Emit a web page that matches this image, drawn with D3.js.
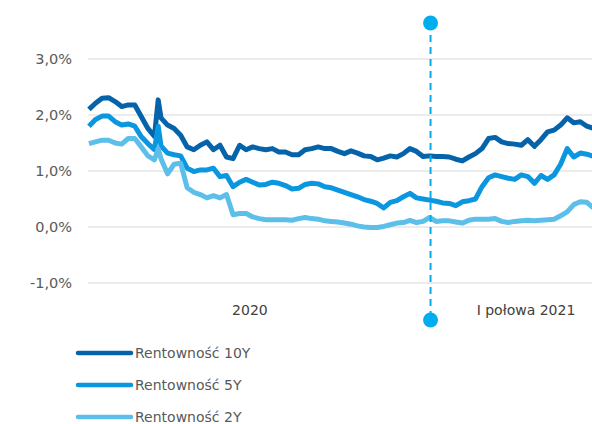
<!DOCTYPE html>
<html>
<head>
<meta charset="utf-8">
<script src="https://cdn.jsdelivr.net/npm/d3@7"></script>
<style>
    body { margin: 0; background: #fff; }
    svg text { font-family: "DejaVu Sans", sans-serif; }
</style>
</head>
<body>
<svg id="chart" width="592" height="424"></svg>
<script>
// weekly readings, 2020-01 .. 2021-06
const dates = [
    "2020-01-02", "2020-01-09", "2020-01-16", "2020-01-23", "2020-01-30", "2020-02-06", "2020-02-13", "2020-02-20",
    "2020-02-27", "2020-03-05", "2020-03-12", "2020-03-16", "2020-03-19", "2020-03-26", "2020-04-02", "2020-04-09",
    "2020-04-16", "2020-04-23", "2020-04-30", "2020-05-07", "2020-05-14", "2020-05-21", "2020-05-28", "2020-06-04",
    "2020-06-11", "2020-06-18", "2020-06-25", "2020-07-02", "2020-07-09", "2020-07-16", "2020-07-23", "2020-07-30",
    "2020-08-06", "2020-08-13", "2020-08-20", "2020-08-27", "2020-09-03", "2020-09-10", "2020-09-17", "2020-09-24",
    "2020-10-01", "2020-10-08", "2020-10-15", "2020-10-22", "2020-10-29", "2020-11-05", "2020-11-12", "2020-11-19",
    "2020-11-26", "2020-12-03", "2020-12-10", "2020-12-17", "2020-12-24", "2020-12-31", "2021-01-07", "2021-01-14",
    "2021-01-21", "2021-01-28", "2021-02-04", "2021-02-11", "2021-02-18", "2021-02-25", "2021-03-04", "2021-03-11",
    "2021-03-18", "2021-03-25", "2021-04-01", "2021-04-08", "2021-04-15", "2021-04-22", "2021-04-29", "2021-05-06",
    "2021-05-13", "2021-05-20", "2021-05-27", "2021-06-03", "2021-06-10", "2021-06-17", "2021-06-24"
];

const y10 = [
    2.10, 2.21, 2.30, 2.31, 2.24, 2.15, 2.18, 2.18, 1.97, 1.76, 1.62, 2.27, 1.95, 1.82, 1.76, 1.64,
    1.43, 1.38, 1.46, 1.52, 1.38, 1.46, 1.25, 1.22, 1.46, 1.38, 1.43, 1.40, 1.38, 1.40, 1.34, 1.34,
    1.29, 1.29, 1.38, 1.40, 1.43, 1.40, 1.40, 1.35, 1.31, 1.36, 1.32, 1.27, 1.26, 1.20, 1.23, 1.27,
    1.25, 1.31, 1.40, 1.35, 1.26, 1.27, 1.26, 1.26, 1.25, 1.21, 1.18, 1.25, 1.31, 1.40, 1.58, 1.60,
    1.52, 1.49, 1.48, 1.46, 1.56, 1.44, 1.56, 1.70, 1.73, 1.82, 1.95, 1.86, 1.88, 1.80, 1.76
];

const y5 = [
    1.80, 1.92, 1.98, 1.98, 1.88, 1.82, 1.84, 1.80, 1.61, 1.49, 1.38, 1.80, 1.45, 1.32, 1.29, 1.27,
    1.05, 0.99, 1.02, 1.02, 1.05, 0.90, 0.92, 0.72, 0.80, 0.85, 0.80, 0.75, 0.76, 0.80, 0.78, 0.74,
    0.68, 0.69, 0.76, 0.78, 0.77, 0.72, 0.70, 0.66, 0.62, 0.58, 0.54, 0.49, 0.46, 0.42, 0.34, 0.44,
    0.47, 0.54, 0.60, 0.52, 0.50, 0.48, 0.46, 0.43, 0.42, 0.38, 0.45, 0.47, 0.50, 0.72, 0.88, 0.93,
    0.90, 0.87, 0.85, 0.93, 0.90, 0.78, 0.92, 0.85, 0.93, 1.12, 1.40, 1.25, 1.32, 1.30, 1.26
];

const y2 = [
    1.49, 1.52, 1.55, 1.55, 1.50, 1.48, 1.58, 1.58, 1.43, 1.27, 1.20, 1.40, 1.22, 0.95, 1.12, 1.14,
    0.70, 0.62, 0.58, 0.52, 0.56, 0.52, 0.58, 0.22, 0.24, 0.24, 0.18, 0.15, 0.13, 0.13, 0.13, 0.13,
    0.12, 0.15, 0.17, 0.15, 0.14, 0.11, 0.10, 0.09, 0.07, 0.05, 0.02, 0.00, -0.01, -0.01, 0.01, 0.04,
    0.07, 0.08, 0.12, 0.08, 0.10, 0.17, 0.10, 0.11, 0.11, 0.09, 0.07, 0.12, 0.14, 0.14, 0.14, 0.15,
    0.10, 0.08, 0.10, 0.11, 0.12, 0.11, 0.12, 0.13, 0.14, 0.20, 0.27, 0.40, 0.45, 0.44, 0.34
];

const seriesNames = ["Rentowność 10Y", "Rentowność 5Y", "Rentowność 2Y"];
const seriesColors = ["#0563aa", "#0b96e0", "#5bbfea"];
const yTicks = [-1, 0, 1, 2, 3];
const periodLabels = ["2020", "I połowa 2021"];
const periodMid = ["2020-06-22", "2021-04-13"];
const dividerDate = "2021-01-01";

const parse = d3.timeParse("%Y-%m-%d");

var svg = d3.select("#chart"),
    width = 592,
    left = 88;

var x = d3.scaleTime()
    .domain([parse("2020-01-01"), parse("2021-06-30")])
    .range([left, 599]);

var y = d3.scaleLinear()
    .domain([-1, 3])
    .range([283, 59]);

// grid
svg.append("g")
    .selectAll("line")
    .data(yTicks)
    .enter()
    .append("line")
    .attr("x1", left)
    .attr("x2", width)
    .attr("y1", d => y(d))
    .attr("y2", d => y(d))
    .attr("stroke", "#d9d9d9")
    .attr("stroke-width", 1);

// y labels
var fmt = d => d3.format(".1f")(d).replace(".", ",").replace("−", "-") + "%";
svg.append("g")
    .selectAll("text")
    .data(yTicks)
    .enter()
    .append("text")
    .attr("x", 72)
    .attr("y", d => y(d))
    .attr("dy", "0.36em")
    .attr("text-anchor", "end")
    .attr("font-size", 14.5)
    .attr("fill", "#595959")
    .text(fmt);

// x labels
svg.append("g")
    .selectAll("text")
    .data(periodLabels)
    .enter()
    .append("text")
    .attr("x", (d, i) => x(parse(periodMid[i])))
    .attr("y", 315)
    .attr("text-anchor", "middle")
    .attr("font-size", 14)
    .attr("fill", "#404040")
    .text(d => d);

// lines
var all = [y10, y5, y2];
var line = d3.line()
    .x((d, i) => x(parse(dates[i])))
    .y(d => y(d));

svg.append("defs").append("clipPath")
    .attr("id", "plot")
    .append("rect")
    .attr("x", left - 3)
    .attr("y", 0)
    .attr("width", width - left + 3)
    .attr("height", 300);

svg.append("g")
    .attr("clip-path", "url(#plot)")
    .selectAll("path")
    .data(all)
    .enter()
    .append("path")
    .attr("d", line)
    .attr("fill", "none")
    .attr("stroke", (d, i) => seriesColors[i])
    .attr("stroke-width", 5)
    .attr("stroke-linejoin", "round");

// divider
var dx = x(parse(dividerDate));
svg.append("line")
    .attr("x1", dx)
    .attr("x2", dx)
    .attr("y1", 23)
    .attr("y2", 320)
    .attr("stroke", "#00aeef")
    .attr("stroke-width", 2)
    .attr("stroke-dasharray", "7,5");

svg.selectAll("circle.end")
    .data([23, 320])
    .enter()
    .append("circle")
    .attr("class", "end")
    .attr("cx", dx)
    .attr("cy", d => d)
    .attr("r", 7.5)
    .attr("fill", "#00aeef");

// legend
var legend = svg.append("g")
    .selectAll("g")
    .data(seriesNames)
    .enter()
    .append("g")
    .attr("transform", (d, i) => "translate(0," + (353 + i * 32) + ")");

legend.append("line")
    .attr("x1", 78)
    .attr("x2", 131)
    .attr("stroke", (d, i) => seriesColors[i])
    .attr("stroke-width", 4.5)
    .attr("stroke-linecap", "round");

legend.append("text")
    .attr("x", 135)
    .attr("dy", "0.36em")
    .attr("font-size", 14)
    .attr("fill", "#595959")
    .text(d => d);
</script>
</body>
</html>
